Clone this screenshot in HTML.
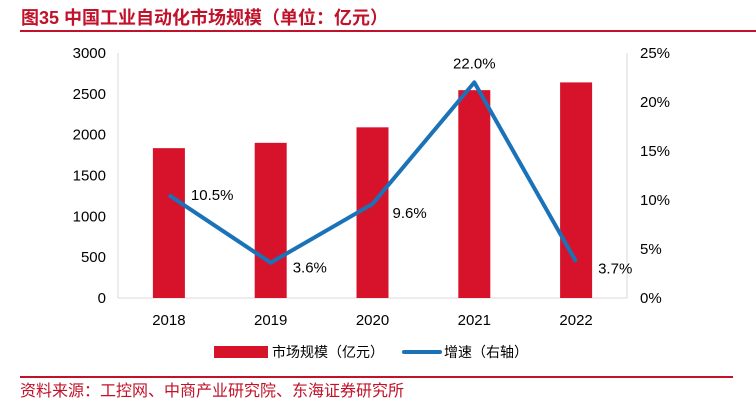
<!DOCTYPE html>
<html><head><meta charset="utf-8"><style>
body{margin:0;width:756px;height:402px;background:#fff;overflow:hidden;font-family:"Liberation Sans","Noto Sans CJK SC",sans-serif}
</style></head><body>
<svg width="756" height="402" font-family="Liberation Sans, Noto Sans CJK SC, sans-serif">
<text x="21" y="24" font-size="18" font-weight="bold" fill="#c0122a">图35  中国工业自动化市场规模（单位：亿元）</text>
<line x1="20" y1="31" x2="756" y2="31" stroke="#c0122a" stroke-width="2"/>
<line x1="118" y1="53" x2="118" y2="298" stroke="#d9d9d9"/>
<line x1="627" y1="53" x2="627" y2="298" stroke="#d9d9d9"/>
<line x1="118" y1="298" x2="627" y2="298" stroke="#d9d9d9"/>
<g id="g" ></g>
<rect x="214" y="346" width="54" height="12" fill="#d7132b"/>
<text x="272" y="357" font-size="14" fill="#000">市场规模（亿元）</text>
<line x1="404" y1="352" x2="440" y2="352" stroke="#1a72b8" stroke-width="4" stroke-linecap="round"/>
<text x="444" y="357" font-size="14" fill="#000">增速（右轴）</text>
<line x1="20" y1="377" x2="733" y2="377" stroke="#c0122a" stroke-width="2"/>
<text x="20" y="396" font-size="16" fill="#c0122a">资料来源：工控网、中商产业研究院、东海证券研究所</text>
</svg>
<script>
const categories=["2018","2019","2020","2021","2022"];
const marketSize=[1835,1900,2090,2545,2640];
const growth=[10.5,3.6,9.6,22.0,3.7];
const growthLabels=["10.5%","3.6%","9.6%","22.0%","3.7%"];
const leftTicks=[0,500,1000,1500,2000,2500,3000];
const rightTicks=[0,5,10,15,20,25];
const NS="http://www.w3.org/2000/svg";
const g=document.getElementById('g');
const x0=118,x1=627,yb=298,yt=53;
const bw=(x1-x0)/categories.length;
const xc=i=>x0+bw*(i+0.5);
const yl=v=>yb-(v/3000)*(yb-yt);
const yr=v=>yb-(v/25)*(yb-yt);
function mk(t,a){const e=document.createElementNS(NS,t);for(const k in a)e.setAttribute(k,a[k]);g.appendChild(e);return e;}
leftTicks.forEach(v=>{const e=mk('text',{x:106,y:yl(v)+5,'font-size':15,'text-anchor':'end'});e.textContent=v;

});
rightTicks.forEach(v=>{const e=mk('text',{x:640,y:yr(v)+5,'font-size':15});e.textContent=v+'%';

});
categories.forEach((c,i)=>{const r=mk('rect',{x:xc(i)-16,y:yl(marketSize[i]),width:32,height:yb-yl(marketSize[i]),fill:'#d7132b'});


const t=mk('text',{x:xc(i),y:325,'font-size':15,'text-anchor':'middle'});t.textContent=c;

});
const pl=mk('polyline',{points:growth.map((v,i)=>xc(i)+','+yr(v)).join(' '),fill:'none',stroke:'#1a72b8','stroke-width':4,'stroke-linejoin':'round'});


const off=[[22,5],[22,10],[20,14],[0,-14],[22,12]];
growth.forEach((v,i)=>{const t=mk('text',{x:xc(i)+off[i][0],y:yr(v)+off[i][1],'font-size':15,'text-anchor':i==3?'middle':'start'});t.textContent=growthLabels[i];

});
</script>
</body></html>
